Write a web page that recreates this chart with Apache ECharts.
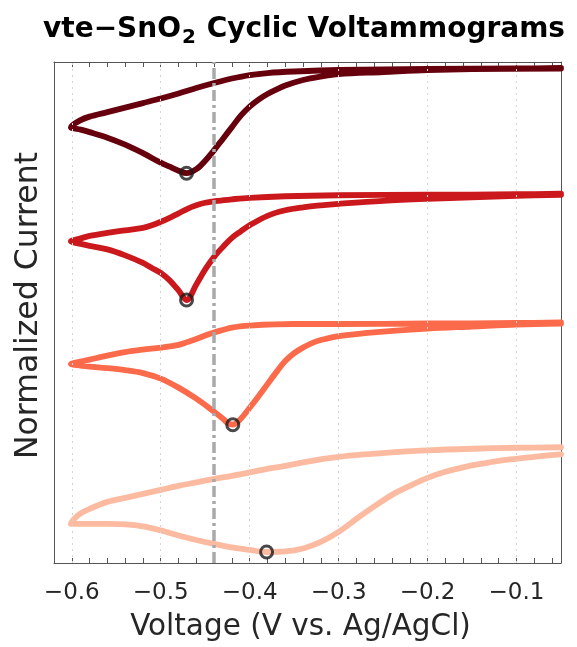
<!DOCTYPE html>
<html>
<head>
<meta charset="utf-8">
<script src="https://cdn.jsdelivr.net/npm/echarts@6/dist/echarts.min.js"></script>
<style>
  html, body { margin: 0; padding: 0; background: #fff; }
  #chart { width: 577px; height: 647px; }
</style>
</head>
<body>
<div id="chart"></div>
<script>
// Cyclic voltammograms of vte-SnO2, stacked with offsets (normalized current, arb. units)
// Each loop: upper (return) branch from right to the -0.6 V vertex, then the lower branch back.
const cv1V = [-0.05,-0.10,-0.20,-0.30,-0.35,-0.38,-0.40,-0.42,-0.44,-0.46,-0.48,-0.50,-0.52,-0.54,-0.56,-0.58,-0.59,-0.601,
              -0.59,-0.58,-0.56,-0.54,-0.52,-0.50,-0.49,-0.48,-0.471,-0.46,-0.45,-0.44,-0.43,-0.42,-0.41,-0.40,-0.39,-0.38,-0.37,-0.36,-0.34,-0.32,-0.30,-0.25,-0.20,-0.15,-0.05];
const cv1I = [9.88,9.87,9.86,9.84,9.81,9.78,9.74,9.67,9.58,9.48,9.37,9.27,9.18,9.09,9.00,8.91,8.84,8.70,
              8.65,8.60,8.49,8.35,8.18,7.99,7.91,7.83,7.78,7.86,8.03,8.24,8.47,8.70,8.93,9.11,9.25,9.36,9.45,9.53,9.64,9.71,9.76,9.80,9.84,9.86,9.87];

const cv2V = [-0.05,-0.10,-0.20,-0.30,-0.36,-0.40,-0.42,-0.4356,-0.45,-0.46,-0.47,-0.48,-0.49,-0.50,-0.51,-0.52,-0.54,-0.56,-0.58,-0.59,-0.601,
              -0.59,-0.58,-0.56,-0.54,-0.52,-0.51,-0.50,-0.49,-0.48,-0.471,-0.46,-0.45,-0.44,-0.43,-0.42,-0.41,-0.40,-0.38,-0.36,-0.34,-0.32,-0.30,-0.25,-0.20,-0.15,-0.10,-0.05];
const cv2I = [7.37,7.36,7.35,7.34,7.32,7.29,7.26,7.23,7.19,7.14,7.07,6.98,6.89,6.81,6.74,6.69,6.64,6.59,6.53,6.48,6.42,
              6.37,6.33,6.26,6.14,5.99,5.89,5.79,5.64,5.44,5.25,5.56,5.86,6.11,6.31,6.49,6.62,6.74,6.93,7.04,7.10,7.14,7.17,7.23,7.27,7.30,7.33,7.35];

const cv3V = [-0.05,-0.10,-0.20,-0.30,-0.35,-0.40,-0.42,-0.44,-0.45,-0.46,-0.47,-0.48,-0.50,-0.52,-0.54,-0.56,-0.58,-0.59,-0.601,
              -0.59,-0.58,-0.56,-0.54,-0.52,-0.50,-0.48,-0.46,-0.44,-0.43,-0.425,-0.419,-0.41,-0.40,-0.39,-0.38,-0.37,-0.36,-0.35,-0.34,-0.33,-0.32,-0.30,-0.25,-0.20,-0.15,-0.10,-0.05];
const cv3I = [4.80,4.79,4.78,4.77,4.77,4.74,4.70,4.60,4.54,4.47,4.41,4.355,4.30,4.26,4.21,4.14,4.06,4.02,3.97,
              3.94,3.92,3.89,3.85,3.79,3.68,3.50,3.28,3.02,2.88,2.80,2.76,2.88,3.10,3.33,3.57,3.81,4.03,4.19,4.30,4.39,4.45,4.53,4.62,4.68,4.72,4.76,4.78];

const cv4V = [-0.05,-0.10,-0.15,-0.20,-0.24,-0.27,-0.30,-0.32,-0.34,-0.36,-0.38,-0.40,-0.42,-0.44,-0.46,-0.48,-0.50,-0.52,-0.54,-0.56,-0.58,-0.59,-0.598,-0.601,
              -0.598,-0.58,-0.56,-0.54,-0.52,-0.50,-0.48,-0.46,-0.44,-0.42,-0.40,-0.381,-0.36,-0.34,-0.32,-0.30,-0.28,-0.26,-0.24,-0.22,-0.20,-0.18,-0.16,-0.14,-0.12,-0.10,-0.075,-0.05];
const cv4I = [2.31,2.30,2.28,2.25,2.21,2.17,2.12,2.07,2.01,1.94,1.88,1.81,1.74,1.68,1.61,1.54,1.46,1.38,1.30,1.22,1.08,0.99,0.87,0.78,
              0.78,0.78,0.78,0.77,0.73,0.65,0.55,0.46,0.38,0.31,0.26,0.22,0.23,0.29,0.42,0.62,0.88,1.13,1.36,1.54,1.70,1.82,1.91,1.98,2.04,2.08,2.13,2.17];

// Cathodic peak positions (one per curve)
const peakV = [-0.471, -0.471, -0.419, -0.381];
const peakI = [7.78, 5.25, 2.76, 0.22];

// Reference potential marker and major tick values
const refV = -0.4356;
const majorTicks = [-0.6, -0.5, -0.4, -0.3, -0.2, -0.1];

const curveColors = ['#67000d', '#cb181d', '#fb6a4a', '#fcbba1'];
const curves = [[cv1V, cv1I], [cv2V, cv2I], [cv3V, cv3I], [cv4V, cv4I]];

const FONT = 'DejaVu Sans';
const TXT = '#262626';
const AX = '#555555';

const chart = echarts.init(document.getElementById('chart'), null, { renderer: 'canvas' });

const lineSeries = curves.map((c, k) => ({
  type: 'line',
  data: c[0].map((v, i) => [v, c[1][i]]),
  showSymbol: false,
  smooth: 0.35,
  lineStyle: { color: curveColors[k], width: 5.8, cap: 'round', join: 'round' },
  itemStyle: { color: curveColors[k] },
  z: 3,
  silent: true
}));

const option = {
  animation: false,
  backgroundColor: '#ffffff',
  title: {
    text: '{a|vte\u2212SnO}{s|2}{a| Cyclic Voltammograms}',
    left: 38,
    top: 7,
    textStyle: {
      rich: {
        a: { fontFamily: FONT, fontWeight: 'bold', fontSize: 28, color: '#000', lineHeight: 36 },
        s: { fontFamily: FONT, fontWeight: 'bold', fontSize: 20, color: '#000', lineHeight: 36, padding: [15, 1, 0, 1] }
      }
    }
  },
  grid: { left: 54, right: 16, top: 62, bottom: 78, containLabel: false },
  xAxis: [
    {
      type: 'value',
      min: -0.62, max: -0.05, interval: 0.02,
      position: 'bottom',
      axisLine: { show: true, onZero: false, lineStyle: { color: AX, width: 1 } },
      axisTick: { show: true, inside: true, length: 5, lineStyle: { color: AX } },
      splitLine: { show: false },
      axisLabel: {
        color: TXT, fontFamily: FONT, fontSize: 23, margin: 19,
        showMinLabel: true, showMaxLabel: true,
        formatter: function (v) {
          const t = Math.round(v * 10);
          if (Math.abs(v * 10 - t) > 1e-6) return '';
          return (t < 0 ? '\u2212' : '') + Math.abs(t / 10).toFixed(1);
        }
      },
      name: 'Voltage (V vs. Ag/AgCl)',
      nameLocation: 'middle',
      nameGap: 49,
      nameTextStyle: { color: TXT, fontFamily: FONT, fontSize: 29.5, padding: [0, 14, 0, 0] }
    },
    {
      type: 'value',
      min: -0.62, max: -0.05, interval: 0.02,
      position: 'top',
      axisLine: { show: true, onZero: false, lineStyle: { color: AX, width: 1 } },
      axisTick: { show: true, inside: true, length: 5, lineStyle: { color: AX } },
      axisLabel: { show: false },
      splitLine: { show: false }
    }
  ],
  yAxis: [
    {
      type: 'value', min: 0, max: 10,
      position: 'left',
      axisLine: { show: true, onZero: false, lineStyle: { color: AX, width: 1 } },
      axisTick: { show: false },
      axisLabel: { show: false },
      splitLine: { show: false },
      name: 'Normalized Current',
      nameLocation: 'middle',
      nameGap: 9,
      nameTextStyle: { color: TXT, fontFamily: FONT, fontSize: 31.5, padding: [0, 0, 0, 14] }
    },
    {
      type: 'value', min: 0, max: 10,
      position: 'right',
      axisLine: { show: true, onZero: false, lineStyle: { color: AX, width: 1 } },
      axisTick: { show: false },
      axisLabel: { show: false },
      splitLine: { show: false }
    }
  ],
  series: [
    // dotted vertical grid at major ticks
    {
      type: 'line', data: [], silent: true, z: 1,
      markLine: {
        silent: true, symbol: ['none', 'none'], label: { show: false },
        lineStyle: { color: '#d4d4d4', width: 1, type: [2, 4] },
        data: majorTicks.map(v => ({ xAxis: v }))
      }
    },
    ...lineSeries,
    // reference potential (dash-dot)
    {
      type: 'line', data: [], silent: true, z: 6,
      markLine: {
        silent: true, symbol: ['none', 'none'], label: { show: false },
        lineStyle: { color: '#a9a9a9', width: 3.5, type: [11, 4, 3, 4] },
        data: [{ xAxis: refV }]
      }
    },
    // peak markers
    {
      type: 'scatter',
      data: peakV.map((v, i) => [v, peakI[i]]),
      symbol: 'circle',
      symbolSize: 12,
      itemStyle: { color: 'rgba(0,0,0,0)', borderColor: '#1a1a1a', borderWidth: 3 },
      z: 8,
      silent: true
    }
  ]
};

chart.setOption(option);
</script>
</body>
</html>
